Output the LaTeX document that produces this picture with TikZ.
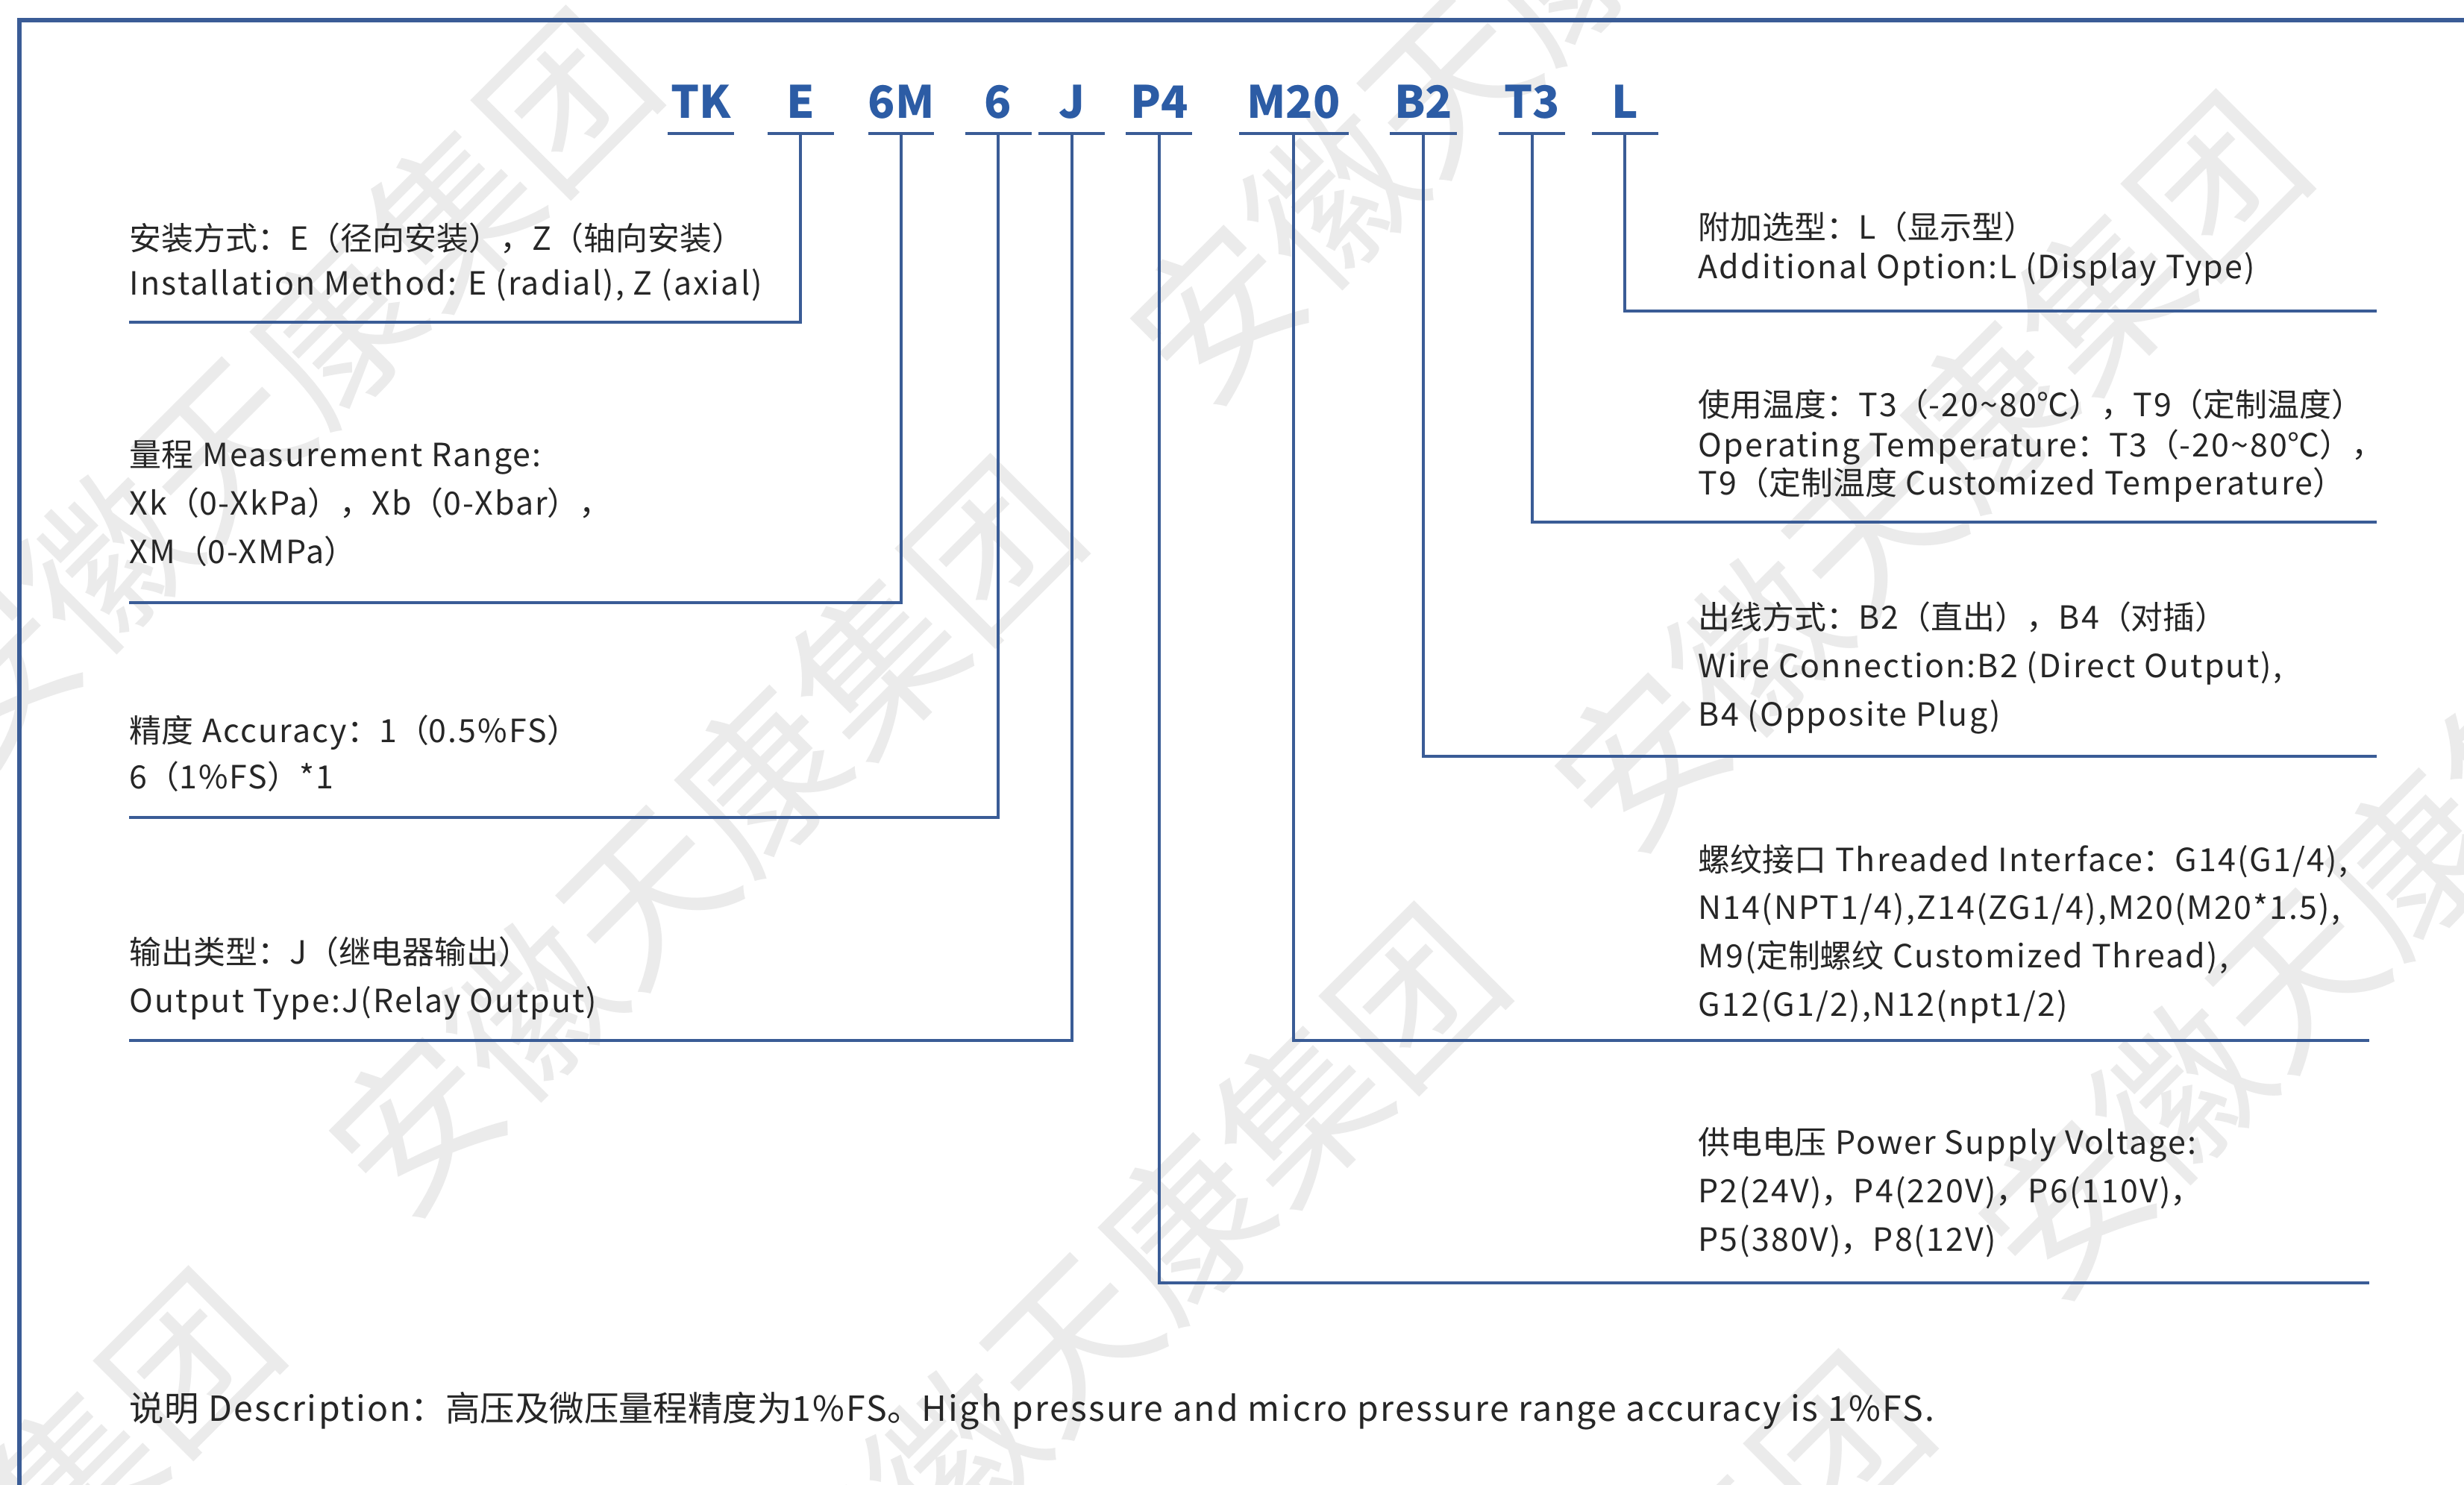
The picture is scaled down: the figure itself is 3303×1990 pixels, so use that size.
\documentclass[tikz,border=0pt]{standalone}
\usepackage{fontspec}
\setmainfont[LetterSpace=5]{Noto Sans CJK SC}
\newfontfamily\zh{Noto Sans CJK SC}
\newfontfamily\codefont{Noto Sans CJK SC}
\definecolor{linecol}{RGB}{58,92,150}
\definecolor{codecol}{RGB}{44,92,165}
\definecolor{txtcol}{RGB}{38,38,38}
\begin{document}
\begin{tikzpicture}[x=0.01cm,y=-0.01cm,
  txt/.style={anchor=base west,inner sep=0,font=\fontsize{12.2pt}{14pt}\selectfont,text=txtcol},
  desctxt/.style={txt,font=\fontsize{13.2pt}{15pt}\selectfont},
  codetxt/.style={anchor=base,inner sep=0,font=\codefont\fontsize{17pt}{18pt}\selectfont\bfseries,text=codecol},
  rule/.style={draw=linecol,line width=1.2pt},
  frame/.style={draw=linecol,line width=1.7pt},
  wm/.style={rotate=45,inner sep=0,font=\zh\fontsize{62pt}{62pt}\selectfont,text=black!8}]
\fill[white] (0,0) rectangle (3303,1990);
\useasboundingbox (0,0) rectangle (3303,1990);
% watermark
\begin{scope}
\clip (0,0) rectangle (3303,1990);
\node[wm] (wm1) at (942,1121) {安徽天康集团};
\node[wm] (wm2) at (373,520) {安徽天康集团};
\node[wm] (wm3) at (1510,1721) {安徽天康集团};
\node[wm] (wm4) at (2585,632) {安徽天康集团};
\node[wm] (wm5) at (2016,32) {安徽天康集团};
\node[wm] (wm6) at (3153,1232) {安徽天康集团};
\node[wm] (wm7) at (2079,2321) {安徽天康集团};
\node[wm] (wm8) at (-133,2210) {安徽天康集团};
\end{scope}
% frame
\coordinate (fA) at (26,1995);
\coordinate (fB) at (26,27);
\coordinate (fC) at (3310,27);
\draw[frame] (fA) -- (fB) -- (fC);
% code row
\foreach \n/\t/\x/\a/\b in {TK/TK/940/895/984, E/E/1073/1029/1118, 6M/6M/1208/1164/1252, 6/6/1338/1294/1383, J/J/1437/1392/1481, P4/P4/1554/1509/1598, M20/M20/1734/1661/1808, B2/B2/1908/1863/1953, T3/T3/2054/2009/2098, L/L/2178/2134/2223}{
  \node[codetxt] (c\n) at (\x,158) {\t};
  \coordinate (ua\n) at (\a,179);
  \coordinate (ub\n) at (\b,179);
  \coordinate (u\n) at (\x,179);
  \draw[rule] (ua\n) -- (ub\n);
}
% line ends
\coordinate (eE) at (173,432);
\coordinate (e6M) at (173,808);
\coordinate (e6) at (173,1096);
\coordinate (eJ) at (173,1395);
\coordinate (eL) at (3186,417);
\coordinate (eT3) at (3186,700);
\coordinate (eB2) at (3186,1014);
\coordinate (eM20) at (3176,1395);
\coordinate (eP4) at (3176,1720);
\foreach \n in {E,6M,6,J,L,T3,B2,M20,P4}{
  \draw[rule] (u\n) |- (e\n);
}
% left texts
\node[txt] (t1a) at (173,335) {{\zh 安装方式：}E{\zh （径向安装），}Z{\zh （轴向安装）}};
\node[txt] (t1b) at (173,395) {Installation Method: E (radial), Z (axial)};
\node[txt] (t2a) at (173,625) {{\zh 量程} Measurement Range:};
\node[txt] (t2b) at (173,690) {Xk{\zh （}0-XkPa{\zh ），}Xb{\zh （}0-Xbar{\zh ），}};
\node[txt] (t2c) at (173,755) {XM{\zh （}0-XMPa{\zh ）}};
\node[txt] (t3a) at (173,995) {{\zh 精度} Accuracy{\zh ：}1{\zh （}0.5\%FS{\zh ）}};
\node[txt] (t3b) at (173,1057) {6{\zh （}1\%FS{\zh ）}*1};
\node[txt] (t4a) at (173,1292) {{\zh 输出类型：}J{\zh （继电器输出）}};
\node[txt] (t4b) at (173,1357) {Output Type:J(Relay Output)};
% right texts
\node[txt] (r1a) at (2276,320) {{\zh 附加选型：}L{\zh （显示型）}};
\node[txt] (r1b) at (2276,373) {Additional Option:L (Display Type)};
\node[txt] (r2a) at (2276,558) {{\zh 使用温度：}T3{\zh （}-20\textasciitilde 80{\zh ℃），}T9{\zh （定制温度）}};
\node[txt] (r2b) at (2276,612) {Operating Temperature{\zh ：}T3{\zh （}-20\textasciitilde 80{\zh ℃），}};
\node[txt] (r2c) at (2276,663) {T9{\zh （定制温度} Customized Temperature{\zh ）}};
\node[txt] (r3a) at (2276,843) {{\zh 出线方式：}B2{\zh （直出），}B4{\zh （对插）}};
\node[txt] (r3b) at (2276,908) {Wire Connection:B2 (Direct Output),};
\node[txt] (r3c) at (2276,973) {B4 (Opposite Plug)};
\node[txt] (r4a) at (2276,1168) {{\zh 螺纹接口} Threaded Interface{\zh ：}G14(G1/4),};
\node[txt] (r4b) at (2276,1232) {N14(NPT1/4),Z14(ZG1/4),M20(M20*1.5),};
\node[txt] (r4c) at (2276,1297) {M9({\zh 定制螺纹} Customized Thread),};
\node[txt] (r4d) at (2276,1362) {G12(G1/2),N12(npt1/2)};
\node[txt] (r5a) at (2276,1547) {{\zh 供电电压} Power Supply Voltage:};
\node[txt] (r5b) at (2276,1612) {P2(24V){\zh ，}P4(220V){\zh ，}P6(110V){\zh ，}};
\node[txt] (r5c) at (2276,1677) {P5(380V){\zh ，}P8(12V)};
% description
\node[desctxt] (desc) at (173,1905) {{\zh 说明} Description{\zh ：高压及微压量程精度为}1\%FS{\zh 。}High pressure and micro pressure range accuracy is 1\%FS.};
\end{tikzpicture}
\end{document}
